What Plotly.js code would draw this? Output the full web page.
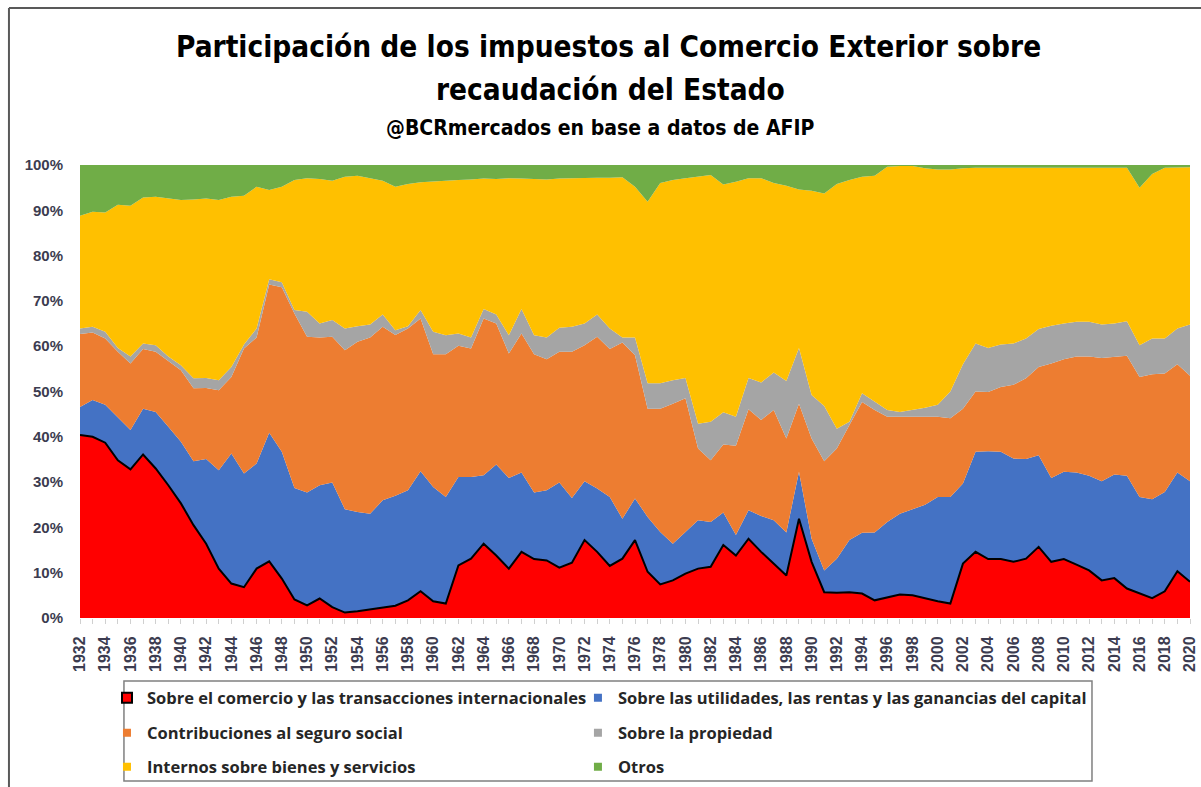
<!DOCTYPE html>
<html>
<head>
<meta charset="utf-8">
<script src="https://cdn.plot.ly/plotly-3.0.1.min.js"></script>
<style>
  html, body { margin: 0; padding: 0; background: #fff; }
  #chart { width: 1201px; height: 787px; }
</style>
</head>
<body>
<div id="chart"></div>
<script>
// años (eje X)
const years = [1932,1933,1934,1935,1936,1937,1938,1939,1940,1941,
  1942,1943,1944,1945,1946,1947,1948,1949,1950,1951,
  1952,1953,1954,1955,1956,1957,1958,1959,1960,1961,
  1962,1963,1964,1965,1966,1967,1968,1969,1970,1971,
  1972,1973,1974,1975,1976,1977,1978,1979,1980,1981,
  1982,1983,1984,1985,1986,1987,1988,1989,1990,1991,
  1992,1993,1994,1995,1996,1997,1998,1999,2000,2001,
  2002,2003,2004,2005,2006,2007,2008,2009,2010,2011,
  2012,2013,2014,2015,2016,2017,2018,2019,2020];

// participación (%) de cada impuesto
const comercio = [40.4,40.0,38.7,34.8,32.8,36.1,33.0,29.3,25.3,20.5,
  16.4,10.9,7.6,6.8,10.9,12.5,8.7,4.1,2.8,4.3,
  2.4,1.2,1.5,1.9,2.2,2.7,3.9,5.9,3.7,3.2,
  11.6,13.1,16.4,13.8,10.9,14.6,13.0,12.7,11.1,12.2,
  17.2,14.6,11.5,13.1,17.2,10.2,7.4,8.3,9.8,10.9,
  11.3,16.1,13.8,17.5,14.6,12.0,9.4,21.9,12.4,5.7,
  5.6,5.7,5.4,3.9,4.6,5.2,5.0,4.3,3.7,3.2,
  12.0,14.6,13.0,13.0,12.4,13.1,15.7,12.4,13.0,11.8,
  10.5,8.3,8.8,6.5,5.4,4.4,5.9,10.3,8.0];

const utilidades = [6.2,8.1,8.4,9.6,8.7,10.1,12.5,12.9,13.6,14.1,
  18.7,21.7,28.7,25.1,23.2,28.4,28.0,24.6,24.9,25.0,
  27.5,22.8,21.9,21.1,23.8,24.3,24.3,26.5,25.2,23.5,
  19.5,18.0,15.1,20.1,20.0,17.5,14.7,15.5,18.8,14.3,
  13.0,14.0,15.2,8.8,9.2,12.1,11.6,8.1,9.2,10.7,
  9.9,7.2,4.5,6.3,7.9,9.6,9.5,10.4,5.1,4.8,
  7.5,11.5,13.4,15.0,16.6,17.8,19.0,20.7,23.0,23.5,
  17.7,22.1,23.8,23.7,22.8,22.0,20.2,18.5,19.3,20.3,
  20.9,21.9,22.9,24.9,21.3,21.8,21.9,21.8,22.2];

const seguroSocial = [16.1,14.9,14.6,14.4,14.7,13.2,13.3,14.5,15.8,16.1,
  15.7,17.7,16.9,27.6,27.8,32.7,36.3,38.5,34.4,32.6,
  32.2,35.1,37.6,38.9,38.3,35.5,35.7,33.7,29.3,31.5,
  29.0,28.4,34.6,31.1,27.5,30.7,30.5,28.9,28.9,32.3,
  30.0,33.5,32.7,38.9,31.6,23.9,27.2,30.9,29.5,15.8,
  13.6,15.0,19.7,22.3,21.2,24.3,20.7,15.0,22.1,24.1,
  24.3,25.4,28.9,27.0,23.2,21.4,20.4,19.4,17.7,17.4,
  16.5,13.3,13.1,14.3,16.3,17.8,19.5,25.3,24.8,25.6,
  26.3,27.2,26.0,26.5,26.5,27.6,26.2,23.9,23.3];

const propiedad = [1.2,1.3,1.5,0.8,1.5,1.2,1.4,1.0,1.1,2.2,
  2.2,2.2,2.2,0.9,2.0,1.2,1.1,0.8,5.5,3.1,
  3.7,4.8,3.4,2.9,2.7,1.0,0.5,1.9,5.0,4.2,
  2.7,2.4,2.1,2.0,4.0,5.4,4.2,4.8,5.3,5.5,
  4.8,4.9,4.5,1.1,3.9,5.6,5.6,5.2,4.5,5.5,
  8.5,7.1,6.4,6.9,8.3,8.3,12.7,12.3,9.6,12.2,
  4.4,0.7,1.9,1.8,1.5,1.1,1.6,2.0,2.7,5.9,
  9.8,10.6,9.7,9.4,9.1,8.8,8.4,8.3,7.9,7.7,
  7.7,7.4,7.3,7.6,7.0,7.9,7.7,7.9,11.3];

const internos = [24.9,25.4,26.3,31.6,33.3,32.2,32.8,34.9,36.5,39.5,
  39.6,39.8,37.6,32.8,31.3,19.7,21.1,28.7,29.5,31.9,
  30.7,33.5,33.2,32.3,29.5,31.7,31.4,28.2,33.2,34.1,
  33.9,34.9,28.8,29.9,34.7,28.8,34.5,34.9,32.9,32.8,
  32.1,30.2,33.3,35.4,33.3,40.1,44.2,44.2,44.1,54.5,
  54.5,50.3,51.9,44.1,45.1,41.8,43.1,35.0,45.1,46.9,
  54.0,53.4,47.8,49.9,53.7,54.3,53.8,52.9,51.9,49.0,
  43.3,38.8,39.8,39.0,38.8,37.7,35.6,34.9,34.4,34.0,
  34.0,34.6,34.4,33.9,34.8,36.3,37.7,35.6,34.7];

const otros = [11.2,10.3,10.5,8.8,9.0,7.2,7.0,7.4,7.7,7.6,
  7.4,7.7,7.0,6.8,4.8,5.5,4.8,3.3,2.9,3.1,
  3.5,2.6,2.4,2.9,3.5,4.8,4.2,3.8,3.6,3.5,
  3.3,3.2,3.0,3.1,2.9,3.0,3.1,3.2,3.0,2.9,
  2.9,2.8,2.8,2.7,4.8,8.1,4.0,3.3,2.9,2.6,
  2.2,4.3,3.7,2.9,2.9,4.0,4.6,5.4,5.7,6.3,
  4.2,3.3,2.6,2.4,0.4,0.2,0.2,0.7,1.0,1.0,
  0.7,0.6,0.6,0.6,0.6,0.6,0.6,0.6,0.6,0.6,
  0.6,0.6,0.6,0.6,5.0,2.0,0.6,0.5,0.5];

const seriesNames = [
  'Sobre el comercio y las transacciones internacionales',
  'Sobre las utilidades, las rentas y las ganancias del capital',
  'Contribuciones al seguro social',
  'Sobre la propiedad',
  'Internos sobre bienes y servicios',
  'Otros'
];
const seriesColors = ['#FF0000', '#4472C4', '#ED7D31', '#A5A5A5', '#FFC000', '#70AD47'];
const seriesValues = [comercio, utilidades, seguroSocial, propiedad, internos, otros];
// una leyenda por item: 3 filas x 2 columnas
const legendIds = ['legend', 'legend2', 'legend3', 'legend4', 'legend5', 'legend6'];
const legendColX = [0.0243, 0.4486];
const legendRowY = [-0.1766, -0.2539, -0.3289];

const labelFont = '"Open Sans", Lato, sans-serif';
const titleFont = '"DejaVu Sans Condensed", "Liberation Sans Narrow", sans-serif';

// areas apiladas
const traces = [];
for (let i = 0; i < seriesValues.length; i++) {
  traces.push({
    x: years,
    y: seriesValues[i],
    type: 'scatter',
    mode: 'lines',
    stackgroup: 'one',
    name: seriesNames[i],
    fillcolor: seriesColors[i],
    line: i === 0 ? { color: '#000000', width: 2 } : { color: seriesColors[i], width: 0 },
    showlegend: false,
    hoverinfo: 'skip'
  });
}
// items de leyenda (cuadraditos como en Excel)
for (let i = 0; i < seriesValues.length; i++) {
  traces.push({
    x: [null],
    y: [null],
    type: 'scatter',
    mode: 'markers',
    name: seriesNames[i],
    legend: legendIds[i],
    marker: {
      symbol: 'square',
      size: i === 0 ? 10 : 8,
      color: seriesColors[i],
      line: i === 0 ? { color: '#000000', width: 2 } : { width: 0 }
    },
    hoverinfo: 'skip'
  });
}

function legendBox(i) {
  return {
    x: legendColX[i % 2], xanchor: 'left',
    y: legendRowY[Math.floor(i / 2)], yanchor: 'middle',
    bgcolor: 'rgba(0,0,0,0)',
    borderwidth: 0,
    font: { family: labelFont, size: 16.5, color: '#262626', weight: 'bold' }
  };
}

const layout = {
  width: 1201,
  height: 787,
  margin: { l: 80, r: 11, t: 165, b: 169, autoexpand: false },
  paper_bgcolor: '#ffffff',
  plot_bgcolor: '#ffffff',
  showlegend: true,
  hovermode: false,
  xaxis: {
    range: [1932, 2020],
    tickmode: 'linear',
    tick0: 1932,
    dtick: 2,
    ticks: 'outside',
    ticklen: 5,
    tickcolor: '#d0d0d0',
    tickangle: -90,
    ticklabelstandoff: 6,
    tickfont: { family: '"Liberation Sans", Arial, sans-serif', size: 16, color: '#3c3c50', weight: 'bold' },
    minor: { dtick: 1, ticks: 'outside', ticklen: 5, tickcolor: '#d0d0d0' },
    showgrid: false,
    zeroline: false,
    showline: false,
    fixedrange: true
  },
  yaxis: {
    range: [0, 100],
    tickmode: 'linear',
    tick0: 0,
    dtick: 10,
    ticksuffix: '%',
    ticks: '',
    ticklabelstandoff: 16,
    tickfont: { family: '"Liberation Sans", Arial, sans-serif', size: 15, color: '#3c3c50', weight: 'bold' },
    showgrid: false,
    zeroline: false,
    showline: false,
    fixedrange: true
  },
  annotations: [
    {
      text: 'Participación de los impuestos al Comercio Exterior sobre',
      xref: 'paper', yref: 'paper', x: 0.4757, y: 1.2605,
      xanchor: 'center', yanchor: 'middle', showarrow: false,
      font: { family: titleFont, size: 29.5, color: '#000000', weight: 'bold' }
    },
    {
      text: 'recaudación del Estado',
      xref: 'paper', yref: 'paper', x: 0.4775, y: 1.1656,
      xanchor: 'center', yanchor: 'middle', showarrow: false,
      font: { family: titleFont, size: 29.5, color: '#000000', weight: 'bold' }
    },
    {
      text: '@BCRmercados en base a datos de AFIP',
      xref: 'paper', yref: 'paper', x: 0.4685, y: 1.0817,
      xanchor: 'center', yanchor: 'middle', showarrow: false,
      font: { family: titleFont, size: 21, color: '#000000', weight: 'bold' }
    }
  ],
  shapes: [
    // recuadro de la leyenda
    {
      type: 'rect', xref: 'paper', yref: 'paper',
      x0: 0.0396, x1: 0.9117, y0: -0.139, y1: -0.3598,
      line: { color: '#808080', width: 1.5 }, fillcolor: 'rgba(0,0,0,0)'
    },
    // borde exterior (arriba e izquierda)
    {
      type: 'line', xref: 'paper', yref: 'paper',
      x0: -0.064, x1: 1.02, y0: 1.3466, y1: 1.3466,
      line: { color: '#595959', width: 2 }
    },
    {
      type: 'line', xref: 'paper', yref: 'paper',
      x0: -0.064, x1: -0.064, y0: 1.3466, y1: -0.42,
      line: { color: '#595959', width: 2 }
    }
  ]
};
legendIds.forEach((id, i) => { layout[id] = legendBox(i); });

Plotly.newPlot('chart', traces, layout, { displayModeBar: false, staticPlot: true });
</script>
</body>
</html>
